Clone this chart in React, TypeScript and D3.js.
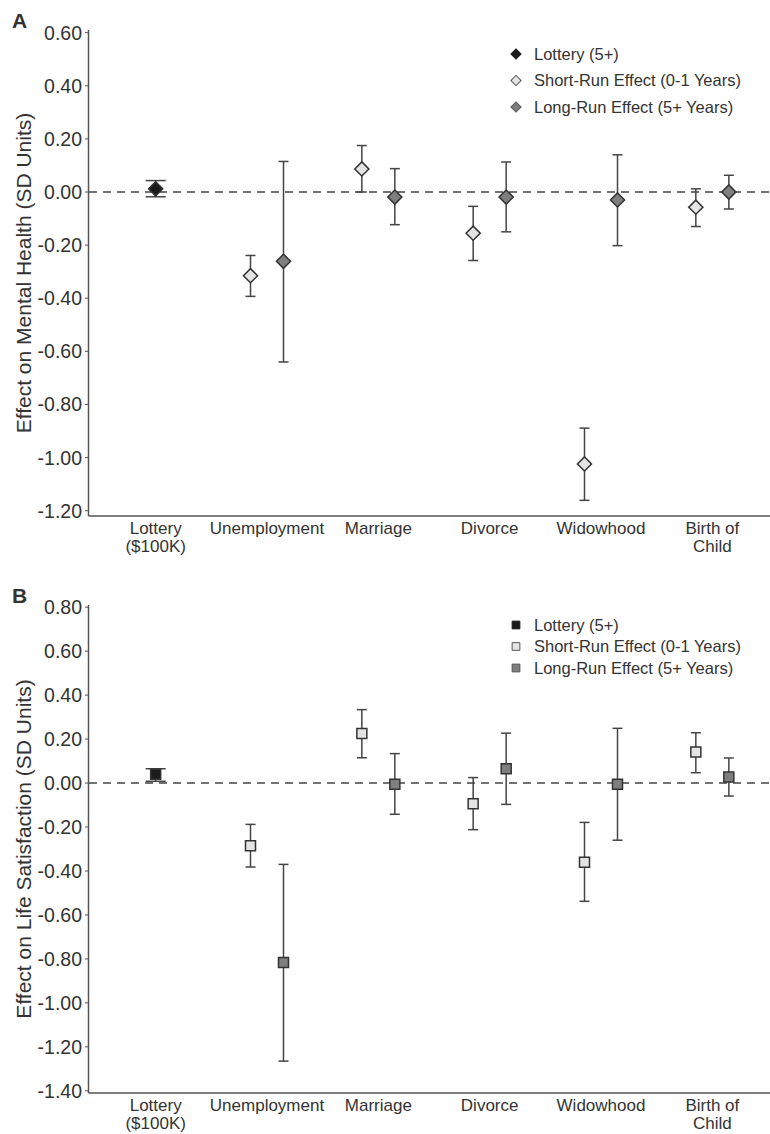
import React from "react";
import * as d3 from "d3";

// x categories (each label split into lines)
const categories = ["Lottery", "Unemployment", "Marriage", "Divorce", "Widowhood", "Birth of Child"];
const categoryLines = [["Lottery", "($100K)"], ["Unemployment"], ["Marriage"], ["Divorce"], ["Widowhood"], ["Birth of", "Child"]];
const events = ["Unemployment", "Marriage", "Divorce", "Widowhood", "Birth of Child"];

const legendLabels = ["Lottery (5+)", "Short-Run Effect (0-1 Years)", "Long-Run Effect (5+ Years)"];

// Panel A: mental health
const ticksA = [0.6, 0.4, 0.2, 0, -0.2, -0.4, -0.6, -0.8, -1.0, -1.2];
const lotteryA = [0.012, -0.018, 0.043]; // est, lo, hi
const shortEstA = [-0.315, 0.087, -0.155, -1.024, -0.057];
const shortLoA = [-0.393, 0.0, -0.258, -1.161, -0.13];
const shortHiA = [-0.239, 0.175, -0.054, -0.889, 0.012];
const longEstA = [-0.261, -0.019, -0.019, -0.03, 0.0];
const longLoA = [-0.64, -0.123, -0.15, -0.202, -0.064];
const longHiA = [0.115, 0.088, 0.113, 0.14, 0.063];

// Panel B: life satisfaction
const ticksB = [0.8, 0.6, 0.4, 0.2, 0, -0.2, -0.4, -0.6, -0.8, -1.0, -1.2, -1.4];
const lotteryB = [0.04, 0.008, 0.065];
const shortEstB = [-0.285, 0.225, -0.094, -0.36, 0.141];
const shortLoB = [-0.382, 0.115, -0.212, -0.538, 0.047];
const shortHiB = [-0.188, 0.334, 0.025, -0.179, 0.229];
const longEstB = [-0.816, -0.006, 0.065, -0.006, 0.027];
const longLoB = [-1.265, -0.142, -0.097, -0.26, -0.059];
const longHiB = [-0.37, 0.134, 0.227, 0.249, 0.114];

const FONT = "'Liberation Sans', Arial, sans-serif";
const C_LOT = "#1b1b1b";
const C_SHORT = "#e4e4e4";
const C_LONG = "#7f7f7f";
const C_LINE = "#444";

const x = d3.scaleBand().domain(categories).range([100, 768]);
const cx = (c) => x(c) + x.bandwidth() / 2;
const dodge = 16.5;

function Panel({ letter, top, bottom, domain, ticks, title, shape, lottery, sEst, sLo, sHi, lEst, lLo, lHi, legendY, legendGap }) {
  const y = d3.scaleLinear().domain(domain).range([bottom, top]);
  const isDiamond = shape === "diamond";
  const sym = d3.symbol().type(d3.symbolSquare);
  const markPath = sym.size(100)();
  const legPath = sym.size(isDiamond ? 52 : 60)();
  const rot = isDiamond ? "rotate(45)" : "";

  const errbar = (xp, lo, hi, cap, key) => (
    <g key={key} stroke={C_LINE} strokeWidth={1.5}>
      <line x1={xp} x2={xp} y1={y(lo)} y2={y(hi)} />
      <line x1={xp - cap / 2} x2={xp + cap / 2} y1={y(lo)} y2={y(lo)} />
      <line x1={xp - cap / 2} x2={xp + cap / 2} y1={y(hi)} y2={y(hi)} />
    </g>
  );
  const mark = (xp, v, fill, key) => (
    <path key={key} d={markPath} transform={`translate(${xp},${y(v)}) ${rot}`} fill={fill} stroke="#333" strokeWidth={1.5} />
  );

  const midY = (top + bottom) / 2;
  return (
    <g fontFamily={FONT}>
      <text x={12} y={top - 2} fontSize={21} fontWeight="bold" fill="#333">{letter}</text>
      <text transform={`translate(31,${midY}) rotate(-90)`} textAnchor="middle" fontSize={21} fill="#333">{title}</text>
      {/* axes */}
      <line x1={88.5} x2={88.5} y1={top} y2={bottom} stroke="#555" strokeWidth={1.5} />
      <line x1={88.5} x2={770} y1={bottom} y2={bottom} stroke="#555" strokeWidth={1.5} />
      {ticks.map((t) => (
        <g key={t}>
          <line x1={85} x2={88.5} y1={y(t)} y2={y(t)} stroke="#555" strokeWidth={1} />
          <text x={82} y={y(t)} dy="0.36em" textAnchor="end" fontSize={19.5} fill="#333">{t.toFixed(2)}</text>
        </g>
      ))}
      {categories.map((c, i) => (
        <text key={c} x={cx(c)} y={bottom + 18} textAnchor="middle" fontSize={17} fill="#333">
          {categoryLines[i].map((ln, j) => (
            <tspan key={j} x={cx(c)} dy={j === 0 ? 0 : 18}>{ln}</tspan>
          ))}
        </text>
      ))}
      {/* zero line */}
      <line x1={89} x2={770} y1={y(0)} y2={y(0)} stroke={C_LINE} strokeWidth={1.5} strokeDasharray="8,6" />
      {/* lottery */}
      {errbar(cx("Lottery"), lottery[1], lottery[2], 20, "lot-e")}
      {mark(cx("Lottery"), lottery[0], C_LOT, "lot-m")}
      {/* short and long */}
      {events.map((e, i) => errbar(cx(e) - dodge, sLo[i], sHi[i], 10, "se" + i))}
      {events.map((e, i) => errbar(cx(e) + dodge, lLo[i], lHi[i], 10, "le" + i))}
      {events.map((e, i) => mark(cx(e) - dodge, sEst[i], C_SHORT, "sm" + i))}
      {events.map((e, i) => mark(cx(e) + dodge, lEst[i], C_LONG, "lm" + i))}
      {/* legend */}
      {legendLabels.map((l, i) => (
        <g key={l} transform={`translate(516,${legendY + i * legendGap})`}>
          <path d={legPath} transform={rot} fill={[C_LOT, C_SHORT, C_LONG][i]} stroke={i === 0 ? C_LOT : "#555"} strokeWidth={1} />
          <text x={18} dy="0.35em" fontSize={16.5} fill="#333">{l}</text>
        </g>
      ))}
    </g>
  );
}

export default function App() {
  return (
    <svg width={770} height={1134} style={{ position: "absolute", left: 0, top: 0, background: "#fff" }}>
      <Panel letter="A" top={30} bottom={516} domain={[-1.22, 0.61]} ticks={ticksA}
        title="Effect on Mental Health (SD Units)" shape="diamond"
        lottery={lotteryA} sEst={shortEstA} sLo={shortLoA} sHi={shortHiA}
        lEst={longEstA} lLo={longLoA} lHi={longHiA} legendY={54} legendGap={26.5} />
      <Panel letter="B" top={605} bottom={1093} domain={[-1.41, 0.81]} ticks={ticksB}
        title="Effect on Life Satisfaction (SD Units)" shape="square"
        lottery={lotteryB} sEst={shortEstB} sLo={shortLoB} sHi={shortHiB}
        lEst={longEstB} lLo={longLoB} lHi={longHiB} legendY={625} legendGap={21.5} />
    </svg>
  );
}
